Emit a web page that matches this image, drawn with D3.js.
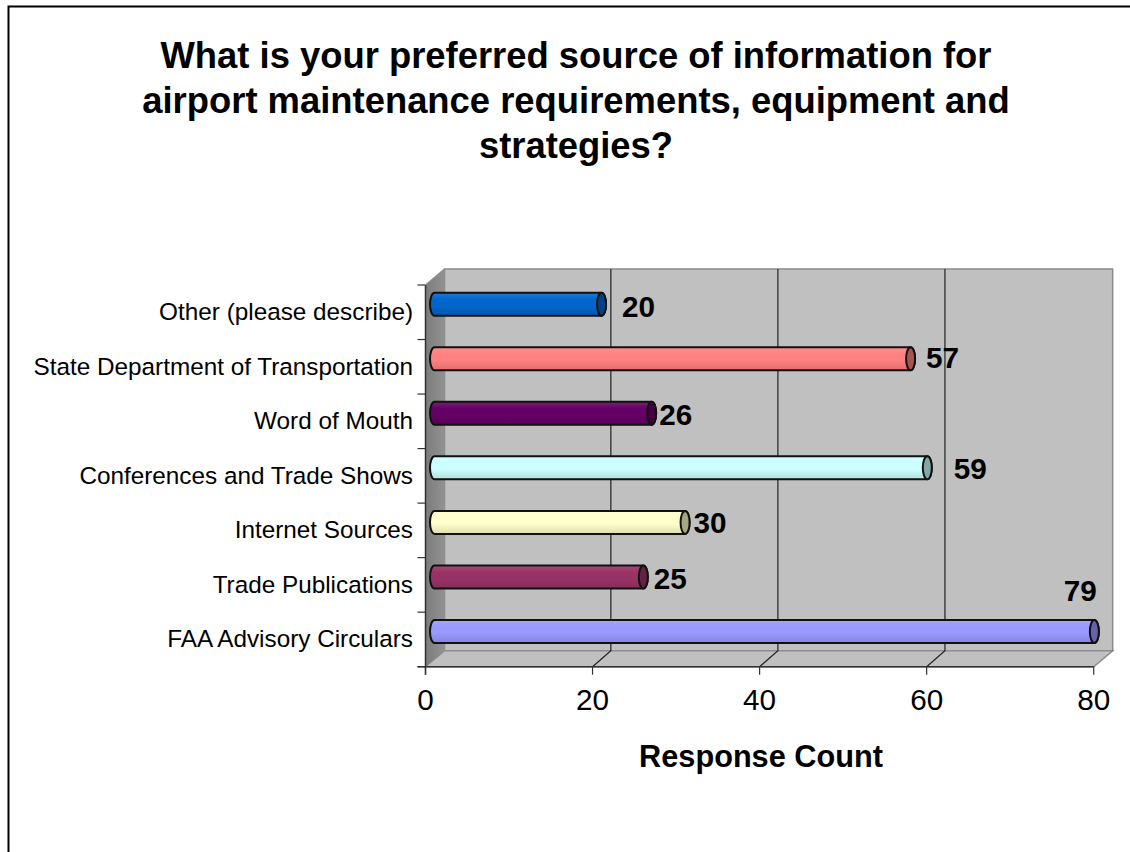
<!DOCTYPE html>
<html><head><meta charset="utf-8">
<script src="https://cdn.jsdelivr.net/npm/d3@7"></script>
<style>html,body{margin:0;padding:0;background:#fff}svg{display:block}text{font-family:"Liberation Sans",Arial,sans-serif;fill:#000}</style>
</head><body><svg id="c" width="1130" height="852"></svg>
<script>
const titleLines = ["What is your preferred source of information for","airport maintenance requirements, equipment and","strategies?"];
const categories = ["Other (please describe)","State Department of Transportation","Word of Mouth","Conferences and Trade Shows","Internet Sources","Trade Publications","FAA Advisory Circulars"];
const values = [20,57,26,59,30,25,79];
const colors = ["#0066cc","#ff8080","#660066","#ccffff","#ffffcc","#993366","#9999ff"];
const xTicks = [0,20,40,60,80];
const xTitle = "Response Count";

const svg = d3.select("#c");
const plotTop = 285, plotBottom = 666.7;
const x = d3.scaleLinear().domain([0,80]).range([425.5,1093.7]);
const y = d3.scaleBand().domain(categories).range([plotTop,plotBottom]);
const depthX = 19, depthY = -16;
const defs = svg.append("defs");

svg.append("path").attr("d","M1130,6.5H8.5V852").attr("fill","none").attr("stroke","#000").attr("stroke-width",2);

svg.append("g").selectAll("text").data(titleLines).join("text")
  .attr("x",576).attr("y",(d,i)=>68+i*44.8).attr("text-anchor","middle")
  .attr("font-size",36.4).attr("font-weight","bold").text(d=>d);

// 3D walls
const x0=x(0), x1=x(80);
svg.append("path").attr("d",`M${x0+depthX},${plotTop+depthY}H${x1+depthX}V${plotBottom+depthY}H${x0+depthX}Z`).attr("fill","#c0c0c0").attr("stroke","#8c8c8c").attr("stroke-width",1.5);
svg.append("path").attr("d",`M${x0},${plotBottom}L${x0+depthX},${plotBottom+depthY}H${x1+depthX}L${x1},${plotBottom}Z`).attr("fill","#c0c0c0").attr("stroke","#8c8c8c").attr("stroke-width",1.5);
const wall = defs.append("linearGradient").attr("id","wall");
wall.append("stop").attr("offset",0).attr("stop-color","#7c7c7c");
wall.append("stop").attr("offset",1).attr("stop-color","#929292");
svg.append("path").attr("d",`M${x0},${plotTop}L${x0+depthX},${plotTop+depthY}V${plotBottom+depthY}L${x0},${plotBottom}Z`).attr("fill","url(#wall)");

// gridlines
const gridVals = xTicks.slice(1,4);
svg.append("g").selectAll("path").data(gridVals).join("path")
  .attr("d",d=>`M${x(d)},${plotBottom}L${x(d)+depthX-0.7},${plotBottom+depthY}V${plotTop+depthY}`)
  .attr("fill","none").attr("stroke","#222").attr("stroke-width",1.2);

// axes lines and ticks
const axisColor="#333";
svg.append("line").attr("x1",x0).attr("x2",x0).attr("y1",plotTop).attr("y2",plotBottom+8).attr("stroke",axisColor).attr("stroke-width",1.5);
svg.append("line").attr("x1",x0-8).attr("x2",x1).attr("y1",plotBottom).attr("y2",plotBottom).attr("stroke",axisColor).attr("stroke-width",1.5);
const yEdges = categories.map(c=>y(c)).concat([plotBottom]);
svg.append("g").selectAll("line").data(yEdges).join("line")
  .attr("x1",x0-8).attr("x2",x0).attr("y1",d=>d).attr("y2",d=>d).attr("stroke",axisColor).attr("stroke-width",1.2);
svg.append("g").selectAll("line").data(xTicks).join("line")
  .attr("x1",d=>x(d)).attr("x2",d=>x(d)).attr("y1",plotBottom).attr("y2",plotBottom+8).attr("stroke",axisColor).attr("stroke-width",1.2);
svg.append("line").attr("x1",x0).attr("x2",x0+depthX).attr("y1",plotTop).attr("y2",plotTop+depthY).attr("stroke","#8c8c8c").attr("stroke-width",1.2);

// tick labels
svg.append("g").selectAll("text").data(xTicks).join("text")
  .attr("x",d=>x(d)).attr("y",710).attr("text-anchor","middle").attr("font-size",29.7).text(d=>d);
svg.append("text").attr("x",761).attr("y",767).attr("text-anchor","middle").attr("font-size",30.7).attr("font-weight","bold").text(xTitle);
svg.append("g").selectAll("text").data(categories).join("text")
  .attr("x",413).attr("y",d=>y(d)+y.bandwidth()/2+8).attr("text-anchor","end").attr("font-size",24.3).text(d=>d);

// bars
const barH = 23, rx = 4.5, bx = 9, by = -8;
const shade=(c,k)=>d3.rgb(c).darker(k).formatHex();
colors.forEach((c,i)=>{
  const g=defs.append("linearGradient").attr("id","bar"+i).attr("x1",0).attr("x2",0).attr("y1",0).attr("y2",1);
  [[0,d3.interpolateRgb(c,"#fff")(0.12)],[0.3,c],[0.55,c],[1,shade(c,0.4)]].forEach(s=>g.append("stop").attr("offset",s[0]).attr("stop-color",s[1]));
});
const barG = svg.append("g").selectAll("g").data(categories).join("g")
  .attr("transform",d=>`translate(0,${y(d)+y.bandwidth()/2+by})`);
barG.append("path").attr("d",(d,i)=>{
  const a=x(0)+bx, b=x(values[i])+bx, h=barH/2;
  return `M${b},${-h}H${a}A${rx},${h} 0 0 0 ${a},${h}H${b}A${rx},${h} 0 0 0 ${b},${-h}Z`;
}).attr("fill",(d,i)=>`url(#bar${i})`).attr("stroke","#111").attr("stroke-width",2);
barG.append("ellipse").attr("cx",(d,i)=>x(values[i])+bx).attr("cy",0).attr("rx",rx).attr("ry",barH/2)
  .attr("fill",(d,i)=>shade(colors[i],1.2)).attr("stroke","#111").attr("stroke-width",2);

// value labels: hand-placed in the original, so each has its own nudge from the bar end
const labelNudge=[[37,2.5],[32,-0.5],[24,1.5],[43,1.5],[25,0.5],[27,2.5],[-14,-40.5]];
svg.append("g").selectAll("text").data(categories).join("text")
  .attr("x",(d,i)=>x(values[i])+bx+labelNudge[i][0])
  .attr("y",(d,i)=>y(d)+y.bandwidth()/2+by+labelNudge[i][1]+10)
  .attr("text-anchor","middle").attr("font-size",29.7).attr("font-weight","bold").text((d,i)=>values[i]);
</script></body></html>
